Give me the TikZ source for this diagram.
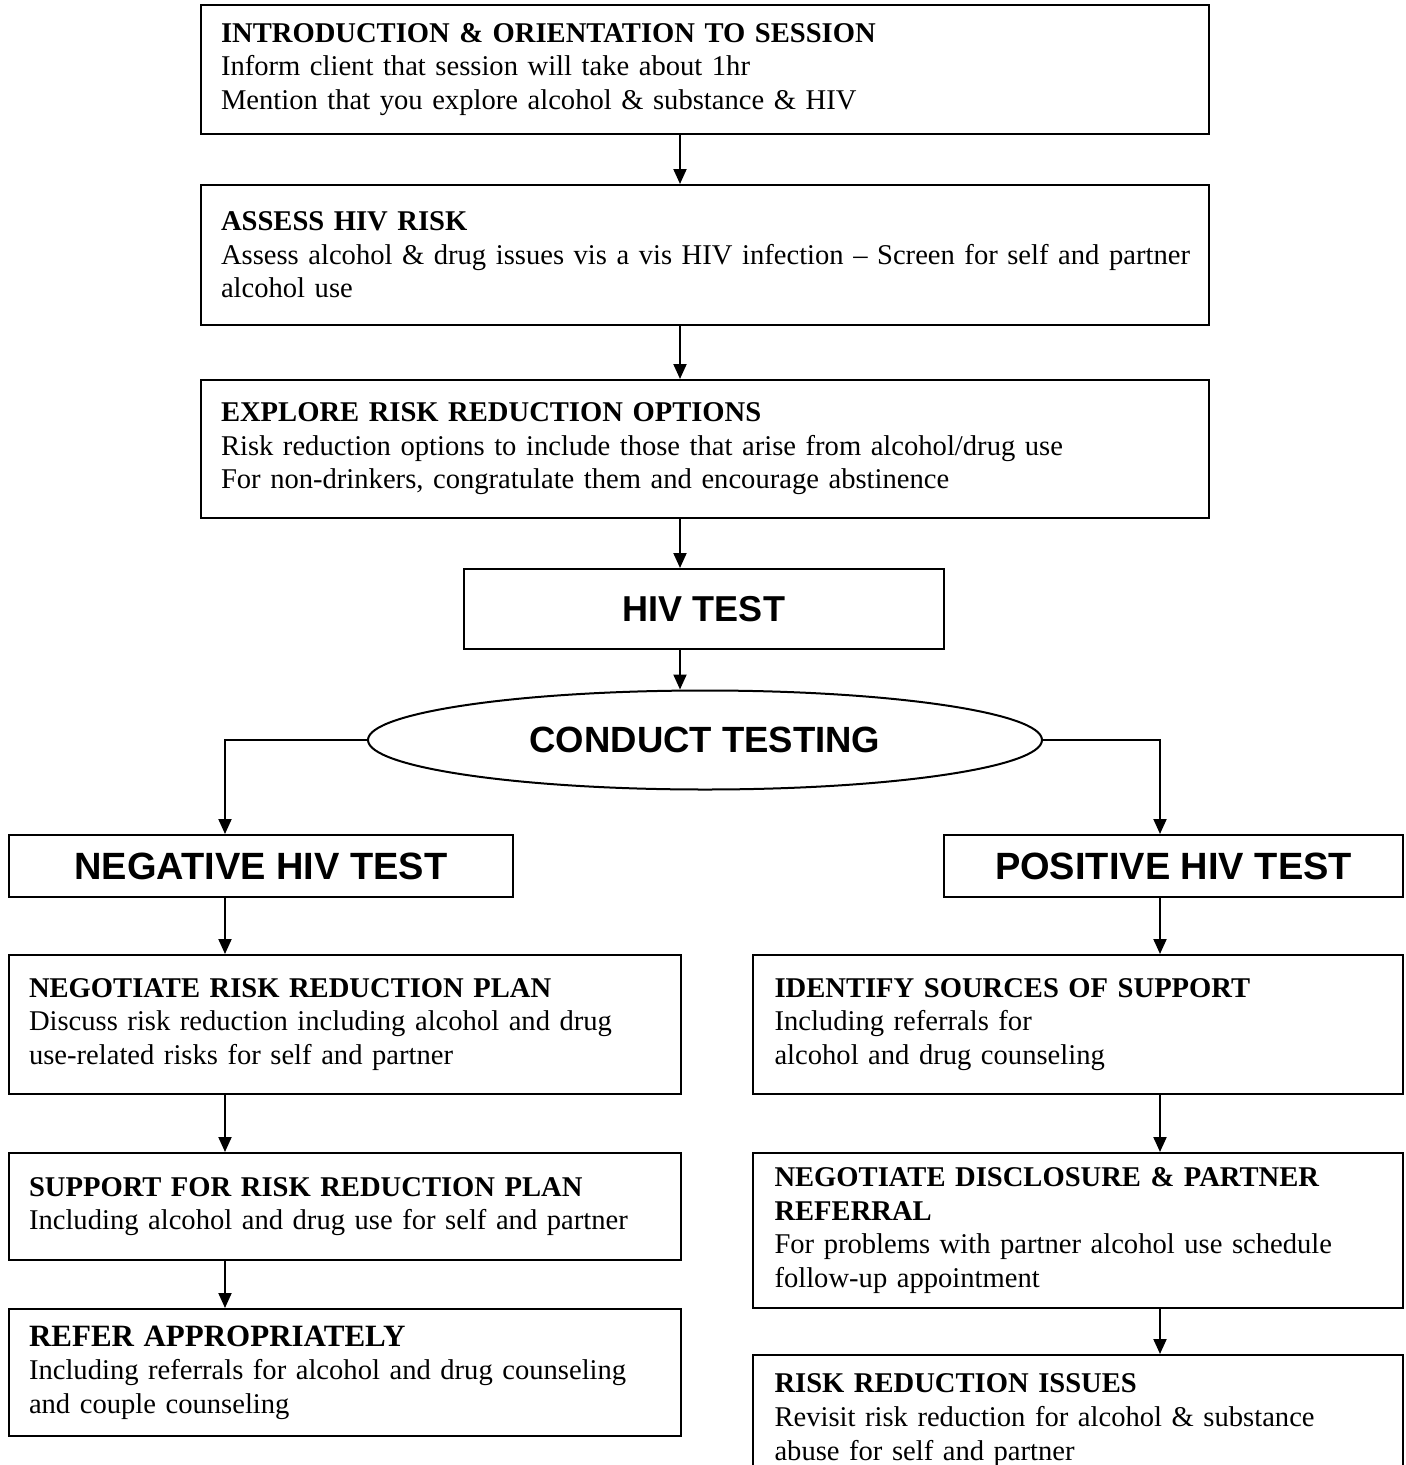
\documentclass[tikz,border=0pt]{standalone}
\usepackage{fontspec}
\setmainfont{Liberation Serif}
\newfontfamily\headfont{Liberation Sans}
\usetikzlibrary{arrows.meta,shapes.geometric}
\hyphenpenalty=10000\relax
\hbadness=10000 \hfuzz=40pt

\begin{document}
\begin{tikzpicture}[x=1pt, y=-1pt, line width=2pt,
    box/.style = {draw, rectangle, anchor=north west, align=left, inner xsep=20pt, inner ysep=2pt,
                  font=\fontsize{28.6}{33.6}\selectfont},
    headbox/.style = {draw, rectangle, anchor=north west, inner sep=0pt,
                  font=\headfont\bfseries\fontsize{38}{40}\selectfont},
    arr/.style = {-{Triangle[length=15pt,width=13pt]}}]
    \useasboundingbox (0,0) rectangle (1406,1465);
    \clip (0,0) rectangle (1406,1465);

    % arrow columns
    \coordinate (cx) at (680,0);
    \coordinate (lx) at (225,0);
    \coordinate (rx) at (1160,0);

    \node[box, text width=968pt, minimum height=129pt] (intro) at (200,4)
        {\textbf{INTRODUCTION \& ORIENTATION TO SESSION}\\Inform client that session will take about 1hr\\Mention that you explore alcohol \& substance \& HIV};
    \node[box, text width=968pt, minimum height=140pt] (assess) at (200,184)
        {\textbf{ASSESS HIV RISK}\\\mbox{Assess alcohol \& drug issues vis a vis HIV infection – Screen for self and partner}\\alcohol use};
    \node[box, text width=968pt, minimum height=138pt] (explore) at (200,379)
        {\textbf{EXPLORE RISK REDUCTION OPTIONS}\\Risk reduction options to include those that arise from alcohol/drug use\\For non-drinkers, congratulate them and encourage abstinence};

    \node[headbox, minimum width=480pt, minimum height=80pt, font=\headfont\bfseries\fontsize{36}{40}\selectfont] (hiv) at (463,568) {HIV TEST};
    \node[draw, ellipse, minimum width=674pt, minimum height=99pt, inner sep=0pt,
          font=\headfont\bfseries\fontsize{36.5}{40}\selectfont] (test) at (705,740) {CONDUCT TESTING};

    \node[headbox, minimum width=504pt, minimum height=62pt] (neg) at (8,834) {NEGATIVE HIV TEST};
    \node[headbox, minimum width=459pt, minimum height=62pt] (pos) at (943,834) {POSITIVE HIV TEST};

    \node[box, text width=632pt, minimum height=139pt] (plan) at (8,954)
        {\textbf{NEGOTIATE RISK REDUCTION PLAN}\\Discuss risk reduction including alcohol and drug\\use-related risks for self and partner};
    \node[box, text width=632pt, minimum height=107pt] (support) at (8,1152)
        {\textbf{SUPPORT FOR RISK REDUCTION PLAN}\\Including alcohol and drug use for self and partner};
    \node[box, text width=632pt, minimum height=127pt] (refer) at (8,1308)
        {{\fontsize{31}{33.6}\selectfont\textbf{REFER APPROPRIATELY}}\\Including referrals for alcohol and drug counseling\\and couple counseling};

    \node[box, text width=607pt, inner xsep=21.5pt, minimum height=139pt] (sources) at (752,954)
        {\textbf{IDENTIFY SOURCES OF SUPPORT}\\Including referrals for\\alcohol and drug counseling};
    \node[box, text width=607pt, inner xsep=21.5pt, minimum height=155pt] (disclose) at (752,1152)
        {\textbf{NEGOTIATE DISCLOSURE \& PARTNER}\\\textbf{REFERRAL}\\For problems with partner alcohol use schedule\\follow-up appointment};
    \node[box, text width=607pt, inner xsep=21.5pt, minimum height=130pt] (issues) at (752,1354)
        {\textbf{RISK REDUCTION ISSUES}\\Revisit risk reduction for alcohol \& substance\\abuse for self and partner};

    \draw[arr] (intro.south -| cx) -- (assess.north -| cx);
    \draw[arr] (assess.south -| cx) -- (explore.north -| cx);
    \draw[arr] (explore.south -| cx) -- (hiv.north -| cx);
    \draw[arr] (hiv.south -| cx) -- (test.north -| cx);
    \draw[arr] (test.west) -| (neg.north -| lx);
    \draw[arr] (test.east) -| (pos.north -| rx);
    \draw[arr] (neg.south -| lx) -- (plan.north -| lx);
    \draw[arr] (plan.south -| lx) -- (support.north -| lx);
    \draw[arr] (support.south -| lx) -- (refer.north -| lx);
    \draw[arr] (pos.south -| rx) -- (sources.north -| rx);
    \draw[arr] (sources.south -| rx) -- (disclose.north -| rx);
    \draw[arr] (disclose.south -| rx) -- (issues.north -| rx);
\end{tikzpicture}
\end{document}
